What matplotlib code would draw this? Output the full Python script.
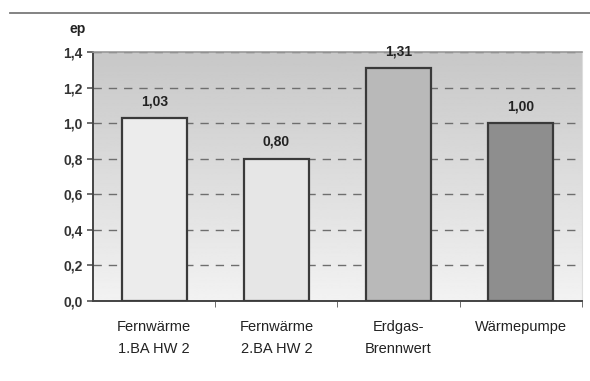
import numpy as np
import matplotlib.pyplot as plt
from matplotlib.lines import Line2D

plt.rcParams['font.family'] = ['Liberation Sans', 'DejaVu Sans']

categories = ["Fernwärme\n1.BA HW 2", "Fernwärme\n2.BA HW 2", "Erdgas-\nBrennwert", "Wärmepumpe"]
values = [1.03, 0.80, 1.31, 1.00]
value_labels = ["1,03", "0,80", "1,31", "1,00"]
bar_colors = ["#ececec", "#e6e6e6", "#b9b9b9", "#8e8e8e"]
yticks = [0.0, 0.2, 0.4, 0.6, 0.8, 1.0, 1.2, 1.4]
ytick_labels = ["0,0", "0,2", "0,4", "0,6", "0,8", "1,0", "1,2", "1,4"]

fig = plt.figure(figsize=(5.9, 3.81), dpi=100)
ax = fig.add_axes([0.158, 0.21, 0.828, 0.6535])

# grey gradient behind the plot, dark at the top
grad = np.linspace(0.95, 0.78, 256).reshape(-1, 1)
ax.imshow(grad, cmap='gray', vmin=0, vmax=1, aspect='auto',
          extent=[-0.5, 3.5, 0, 1.4], origin='lower', zorder=0)

x = np.arange(len(categories))
ax.bar(x, values, width=0.53, color=bar_colors, edgecolor="#3a3a3a",
       linewidth=1.6, zorder=3)

for xi, v, lab in zip(x, values, value_labels):
    ax.annotate(lab, (xi, v), xytext=(0, 7), textcoords='offset points',
                ha='center', va='bottom', fontsize=10, fontweight='bold',
                color="#222222")

ax.set_xlim(-0.5, 3.5)
ax.set_ylim(0, 1.4)
ax.set_yticks(yticks)
ax.set_yticklabels(ytick_labels, fontsize=10, fontweight='bold', color="#333333")
ax.yaxis.grid(True, linestyle=(0, (6, 5)), color="#6e6e6e", linewidth=1.0, zorder=1)

ax.set_xticks(x)
ax.set_xticklabels(categories, fontsize=10.5, color="#222222", linespacing=1.7)
ax.tick_params(axis='x', length=0, pad=14)
ax.set_xticks([0.5, 1.5, 2.5, 3.5], minor=True)
ax.tick_params(axis='x', which='minor', length=4, color="#555555")
ax.tick_params(axis='y', length=4, color="#555555", width=1.2)

ax.spines['top'].set_color("#999999")
ax.spines['top'].set_linewidth(1.2)
ax.spines['right'].set_color("#dddddd")
for side in ['left', 'bottom']:
    ax.spines[side].set_color("#444444")
    ax.spines[side].set_linewidth(1.4)

fig.text(0.132, 0.905, "ep", fontsize=10, fontweight='bold', color="#222222",
         ha='center', va='bottom')

# rule across the top of the figure
fig.add_artist(Line2D([0.017, 1.0], [0.966, 0.966], color="#7a7a7a", linewidth=1.3))

fig.savefig("out.png", dpi=100)
